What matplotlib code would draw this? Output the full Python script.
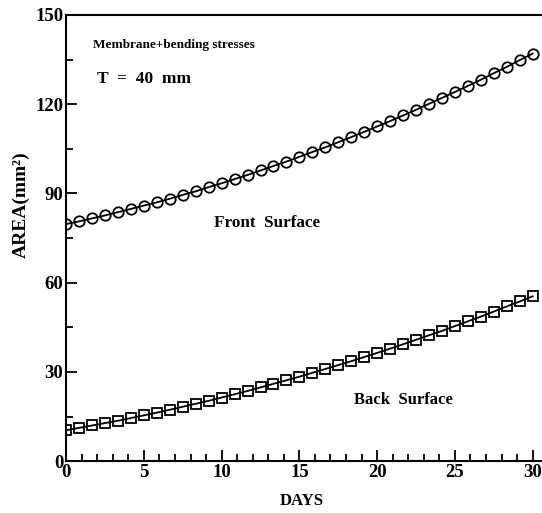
#!/usr/bin/env python3
"""
Area growth over days for front and back surfaces (T = 40 mm)
"""
import matplotlib
matplotlib.use('Agg')
import matplotlib.pyplot as plt
from matplotlib.ticker import MultipleLocator

days = [0.0, 0.83, 1.67, 2.5, 3.33, 4.17, 5.0, 5.83, 6.67, 7.5, 8.33, 9.17,
        10.0, 10.83, 11.67, 12.5, 13.33, 14.17, 15.0, 15.83, 16.67, 17.5,
        18.33, 19.17, 20.0, 20.83, 21.67, 22.5, 23.33, 24.17, 25.0, 25.83,
        26.67, 27.5, 28.33, 29.17, 30.0]

front_area = [79.7, 80.6, 81.6, 82.6, 83.7, 84.8, 85.9, 87.0, 88.2, 89.5,
              90.7, 92.1, 93.4, 94.8, 96.2, 97.7, 99.2, 100.7, 102.3, 103.9,
              105.5, 107.2, 108.9, 110.7, 112.5, 114.3, 116.2, 118.1, 120.1,
              122.1, 124.1, 126.1, 128.2, 130.4, 132.5, 134.8, 137.0]

back_area = [10.4, 11.2, 12.0, 12.8, 13.6, 14.5, 15.4, 16.3, 17.3, 18.3,
             19.3, 20.3, 21.4, 22.5, 23.6, 24.8, 26.0, 27.2, 28.4, 29.7,
             31.0, 32.3, 33.6, 35.0, 36.4, 37.8, 39.3, 40.8, 42.3, 43.8,
             45.4, 47.0, 48.6, 50.3, 52.0, 53.7, 55.4]


def main():
    plt.rcParams['font.family'] = ['Liberation Serif', 'DejaVu Serif']
    plt.rcParams['font.weight'] = 'bold'

    fig = plt.figure(figsize=(5.42, 5.13), dpi=100)
    ax = fig.add_axes([0.122, 0.101, 0.878, 0.870])

    ax.plot(days, front_area, color='black', lw=1.3, marker='o',
            ms=7.5, mfc='none', mec='black', mew=1.3)
    ax.plot(days, back_area, color='black', lw=1.3, marker='s',
            ms=6.5, mfc='none', mec='black', mew=1.3)

    ax.set_xlim(0, 30.6)
    ax.set_ylim(0, 150)
    ax.xaxis.set_major_locator(MultipleLocator(5))
    ax.xaxis.set_minor_locator(MultipleLocator(1))
    ax.yaxis.set_major_locator(MultipleLocator(30))
    ax.yaxis.set_minor_locator(MultipleLocator(15))
    ax.tick_params(which='both', direction='in', width=1.3, labelsize=13.5)
    ax.tick_params(which='major', length=8, pad=2)
    ax.tick_params(which='minor', length=5)
    ax.spines['right'].set_visible(False)
    for s in ('left', 'bottom', 'top'):
        ax.spines[s].set_linewidth(1.5)

    ax.set_xlabel('DAYS', fontsize=12, fontweight='bold')
    ax.xaxis.set_label_coords(0.494, -0.072)
    ax.set_ylabel('AREA(mm\u00b2)', fontsize=14, fontweight='bold')
    ax.yaxis.set_label_coords(-0.076, 0.574)

    ax.text(1.7, 140, 'Membrane+bending stresses', fontsize=9.5,
            fontweight='bold', va='center')
    ax.text(2.0, 128.5, 'T  =  40  mm', fontsize=12.5, fontweight='bold',
            va='center')
    ax.text(9.5, 80, 'Front  Surface', fontsize=12.3, fontweight='bold',
            va='center')
    ax.text(18.5, 20.5, 'Back  Surface', fontsize=12, fontweight='bold',
            va='center')

    fig.savefig('out.png', dpi=100)


if __name__ == '__main__':
    main()
